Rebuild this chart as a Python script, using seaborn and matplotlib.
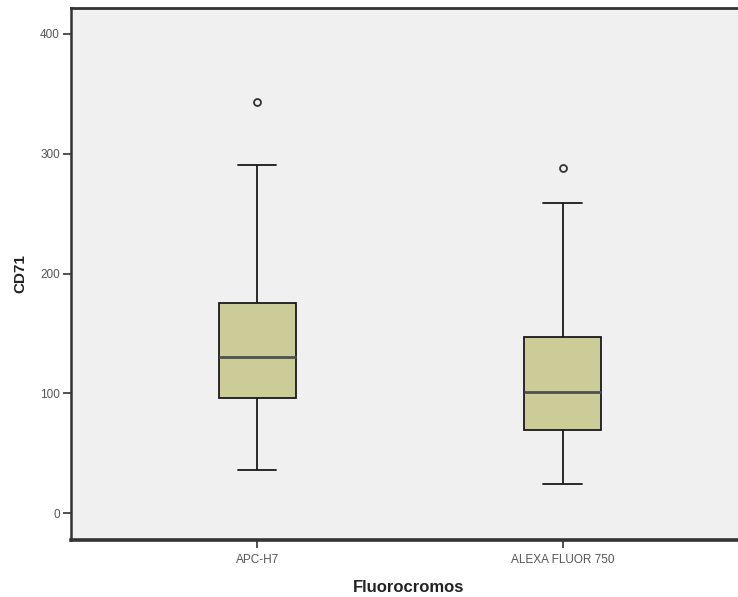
import matplotlib
matplotlib.use("Agg")
import matplotlib.pyplot as plt
import seaborn as sns
import pandas as pd

# ---- data (five-number summaries + outliers) ----
categories = ["APC-H7", "ALEXA FLUOR 750"]
lower_whisker = [36, 24]
q1 = [96, 69]
median = [130, 101]
q3 = [175, 147]
upper_whisker = [291, 259]
outliers = [[343], [288]]
y_ticks = [0, 100, 200, 300, 400]

# build a sample per category whose quartiles equal the read values
rows = []
for i, cat in enumerate(categories):
    vals = [lower_whisker[i], q1[i], q1[i], median[i], median[i],
            q3[i], q3[i], upper_whisker[i]] + outliers[i]
    for v in vals:
        rows.append({"Fluorocromos": cat, "CD71": v})
df = pd.DataFrame(rows)

sns.set_theme(style="white")
plt.rcParams["font.family"] = ["Liberation Sans", "DejaVu Sans"]

fig = plt.figure(figsize=(7.38, 5.97), dpi=100)
ax = fig.add_axes([71 / 738, (597 - 540) / 597, (738 - 71) / 738 + 0.01, (540 - 8) / 597])
ax.set_facecolor("#f0f0f0")

sns.boxplot(
    data=df, x="Fluorocromos", y="CD71", order=categories, ax=ax,
    width=0.25, whis=1.5, color="#cccc99", saturation=1,
    linewidth=1.3, linecolor="#1a1a1a",
    medianprops=dict(color="#505050", linewidth=2.0),
    flierprops=dict(marker="o", markersize=5, markerfacecolor="#f0f0f0",
                    markeredgecolor="#333333", markeredgewidth=1.3),
)

ax.set_xlim(-0.611, 1.575 + 0.01 * 738 / 305)
ax.set_ylim(-22.5, 421.7)
ax.set_yticks(y_ticks)
ax.set_yticklabels([str(t) for t in y_ticks])

for side in ["left", "top", "bottom"]:
    ax.spines[side].set_visible(True)
    ax.spines[side].set_color("#333333")
ax.spines["left"].set_linewidth(1.8)
ax.spines["top"].set_linewidth(2.0)
ax.spines["bottom"].set_linewidth(2.6)
ax.spines["right"].set_visible(False)

ax.tick_params(axis="both", which="both", direction="out", length=6, width=1.2,
               color="#333333", labelsize=8.5, labelcolor="#555555",
               left=True, bottom=True, pad=2)
ax.tick_params(axis="x", pad=4)

ax.set_xlabel("Fluorocromos", fontsize=12, fontweight="bold", color="#222222", labelpad=10)
ax.set_ylabel("CD71", fontsize=11, fontweight="bold", color="#222222", labelpad=9)
ax.grid(False)

fig.savefig("out.png", dpi=100)
